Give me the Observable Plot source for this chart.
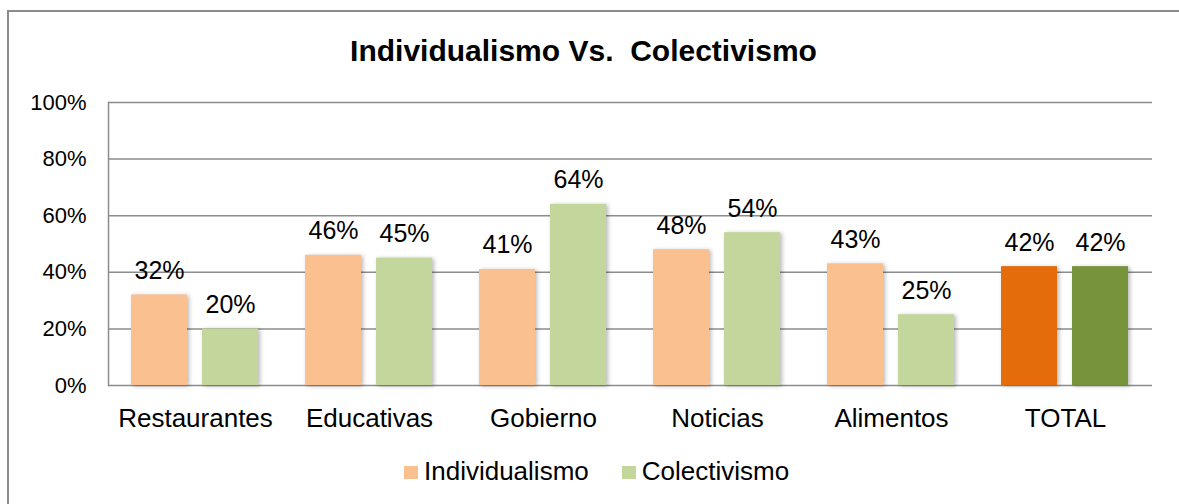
<!DOCTYPE html>
<html>
<head>
<meta charset="utf-8">
<script src="https://cdn.jsdelivr.net/npm/d3@7"></script>
<script src="https://cdn.jsdelivr.net/npm/@observablehq/plot@0.6"></script>
<style>
  html, body { margin: 0; padding: 0; background: #fff; }
  body { width: 1179px; height: 504px; position: relative; overflow: hidden;
         font-family: "Liberation Sans", Arial, sans-serif; color: #000; }
  #border { position: absolute; left: 7px; top: 10px; right: -10px; bottom: -10px;
            border-left: 2px solid #8c8c8c; border-top: 2px solid #8c8c8c; }
  #title { position: absolute; left: 0; top: 33px; width: 1167px; text-align: center;
           font-size: 30px; font-weight: bold; line-height: 36px; white-space: pre; }
  #chart { position: absolute; left: 0; top: 80px; }
  #chart svg g[aria-label="bar"] rect { filter: drop-shadow(2px 1px 2px rgba(0,0,0,0.28)); }
  #legend { position: absolute; left: 404px; top: 456px; display: flex; font-size: 26px; line-height: 30px; }
  .item { display: flex; align-items: flex-start; }
  .sw { width: 14px; height: 13px; margin-top: 10px; margin-right: 6px; }
  .item + .item { margin-left: 33px; }
</style>
</head>
<body>
<div id="border"></div>
<div id="title"></div>
<div id="chart"></div>
<div id="legend"></div>
<script>
const titleText = "Individualismo Vs.  Colectivismo";
const categories = ["Restaurantes", "Educativas", "Gobierno", "Noticias", "Alimentos", "TOTAL"];
const seriesNames = ["Individualismo", "Colectivismo"];
const individualismo = [0.32, 0.46, 0.41, 0.48, 0.43, 0.42];
const colectivismo = [0.20, 0.45, 0.64, 0.54, 0.25, 0.42];
const yTicks = [0, 0.2, 0.4, 0.6, 0.8, 1.0];
const lightColors = ["#FAC090", "#C3D69B"];
const totalColors = ["#E46C0A", "#77933C"];

const seriesValues = [individualismo, colectivismo];
const rows = [];
categories.forEach((c, i) => {
  seriesNames.forEach((s, j) => {
    rows.push({
      category: c,
      series: s,
      value: seriesValues[j][i],
      color: c === "TOTAL" ? totalColors[j] : lightColors[j]
    });
  });
});

document.getElementById("title").textContent = titleText;

const fmt = d3.format(".0%");

const chart = Plot.plot({
  width: 1179,
  height: 360,
  marginLeft: 108,
  marginRight: 27,
  marginTop: 22,
  marginBottom: 55,
  style: { fontFamily: '"Liberation Sans", Arial, sans-serif', color: "#000", background: "transparent", overflow: "visible" },
  fx: { domain: categories, padding: 0, axis: null, label: null },
  x: { domain: seriesNames, paddingInner: 0.2083, paddingOuter: 0.3125, axis: null },
  y: { domain: [0, 1], axis: null },
  color: { type: "identity" },
  marks: [
    Plot.gridY(yTicks, { stroke: "#8c8c8c", strokeOpacity: 1, strokeWidth: 1.5 }),
    Plot.frame({ anchor: "left", facetAnchor: "left", stroke: "#8c8c8c", strokeWidth: 1.5 }),
    Plot.barY(rows, { fx: "category", x: "series", y: "value", fill: "color" }),
    Plot.text(rows, { fx: "category", x: "series", y: "value", text: d => fmt(d.value),
      lineAnchor: "bottom", dy: -16, fontSize: 25, fill: "#000" }),
    Plot.axisY({ ticks: yTicks, tickFormat: fmt, tickSize: 0, tickPadding: 22, fontSize: 22, label: null }),
    Plot.axisFx({ anchor: "bottom", tickSize: 0, tickPadding: 23, fontSize: 26, label: null })
  ]
});
document.getElementById("chart").appendChild(chart);

const legend = document.getElementById("legend");
seriesNames.forEach((s, j) => {
  const item = document.createElement("div");
  item.className = "item";
  const sw = document.createElement("div");
  sw.className = "sw";
  sw.style.background = lightColors[j];
  const t = document.createElement("span");
  t.textContent = s;
  item.appendChild(sw);
  item.appendChild(t);
  legend.appendChild(item);
});
</script>
</body>
</html>
